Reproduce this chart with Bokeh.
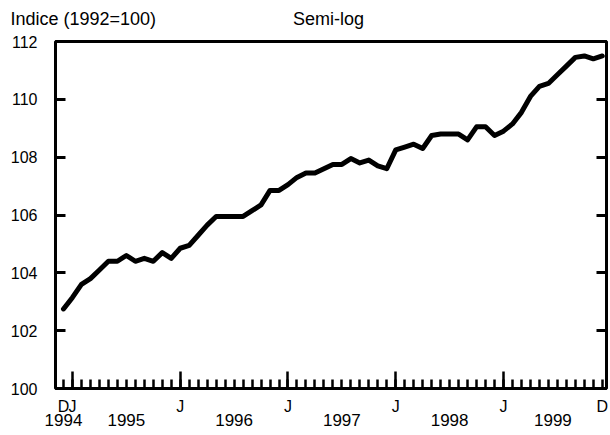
from bokeh.plotting import figure
from bokeh.models import Range1d, LinearAxis, FixedTicker, Label
from bokeh.embed import file_html
from bokeh.resources import INLINE

# months counted from January 1995 (= 0); series runs Dec 1994 .. Dec 1999
months = list(range(-1, 60))
values = [
    102.75,
    103.15, 103.6, 103.8, 104.1, 104.4, 104.4, 104.6, 104.4, 104.5, 104.4, 104.7, 104.5,
    104.85, 104.95, 105.3, 105.65, 105.95, 105.95, 105.95, 105.95, 106.15, 106.35, 106.85, 106.85,
    107.05, 107.3, 107.45, 107.45, 107.6, 107.75, 107.75, 107.95, 107.8, 107.9, 107.7, 107.6,
    108.25, 108.35, 108.45, 108.3, 108.75, 108.8, 108.8, 108.8, 108.6, 109.05, 109.05, 108.75,
    108.9, 109.15, 109.55, 110.1, 110.45, 110.55, 110.85, 111.15, 111.45, 111.5, 111.4, 111.5,
]
y_ticks = [100, 102, 104, 106, 108, 110, 112]
jan_ticks = [0, 12, 24, 36, 48]
month_label_pos = [-1, 0, 12, 24, 36, 48, 59]
month_labels = ["D", "J", "J", "J", "J", "J", "D"]
year_label_pos = [-1, 6, 18, 30, 42, 53.5]
year_labels = ["1994", "1995", "1996", "1997", "1998", "1999"]

FONT = "Liberation Sans"

p = figure(frame_width=551, frame_height=347,
           x_range=Range1d(-1.89, 59.47), y_range=Range1d(100, 112),
           output_backend="svg", toolbar_location=None,
           x_axis_location=None, y_axis_location=None,
           min_border_left=55, min_border_top=41, min_border_right=4, min_border_bottom=0)
p.grid.visible = False
p.outline_line_color = "black"
p.outline_line_width = 3
p.background_fill_color = "white"
p.border_fill_color = "white"

def yaxis(show_labels):
    return LinearAxis(ticker=FixedTicker(ticks=y_ticks),
                      major_tick_in=10, major_tick_out=0, minor_tick_in=0, minor_tick_out=0,
                      major_tick_line_width=3, axis_line_color=None,
                      major_label_standoff=18 if show_labels else 0,
                      major_label_text_font=FONT,
                      major_label_text_font_size="16px" if show_labels else "1px",
                      major_label_text_color="black" if show_labels else None,
                      major_label_text_alpha=1 if show_labels else 0)

p.add_layout(yaxis(True), "left")
p.add_layout(yaxis(False), "right")

xa = LinearAxis(ticker=FixedTicker(ticks=jan_ticks, minor_ticks=months),
                major_tick_in=17, major_tick_out=0, minor_tick_in=9, minor_tick_out=0,
                major_tick_line_width=2.5, minor_tick_line_width=2.5,
                axis_line_color=None, major_label_text_font_size="1px",
                major_label_text_color=None, major_label_text_alpha=0,
                major_label_standoff=0)
p.add_layout(xa, "below")

xb = LinearAxis(ticker=FixedTicker(ticks=month_label_pos),
                major_label_overrides={k: v for k, v in zip(month_label_pos, month_labels)},
                major_tick_in=0, major_tick_out=0, minor_tick_in=0, minor_tick_out=0,
                axis_line_color=None, major_label_standoff=9,
                major_label_text_font=FONT, major_label_text_font_size="16px",
                major_label_text_color="black")
p.add_layout(xb, "below")

xc = LinearAxis(ticker=FixedTicker(ticks=year_label_pos),
                major_label_overrides={k: v for k, v in zip(year_label_pos, year_labels)},
                major_tick_in=0, major_tick_out=0, minor_tick_in=0, minor_tick_out=0,
                axis_line_color=None, major_label_standoff=-4,
                major_label_text_font=FONT, major_label_text_font_size="17px",
                major_label_text_color="black")
p.add_layout(xc, "below")

p.line(months, values, line_color="black", line_width=5,
       line_cap="round", line_join="round")

p.add_layout(Label(x=-45, y=23, x_units="screen", y_units="screen",
                   text="Indice (1992=100)", text_font=FONT, text_font_size="18px",
                   text_baseline="alphabetic", text_color="black"), "above")
p.add_layout(Label(x=273, y=3, x_units="screen", y_units="screen",
                   text="Semi-log", text_font=FONT, text_font_size="18px",
                   text_align="center", text_baseline="alphabetic", text_color="black"), "above")

open("out.html", "w").write(file_html(p, INLINE))
